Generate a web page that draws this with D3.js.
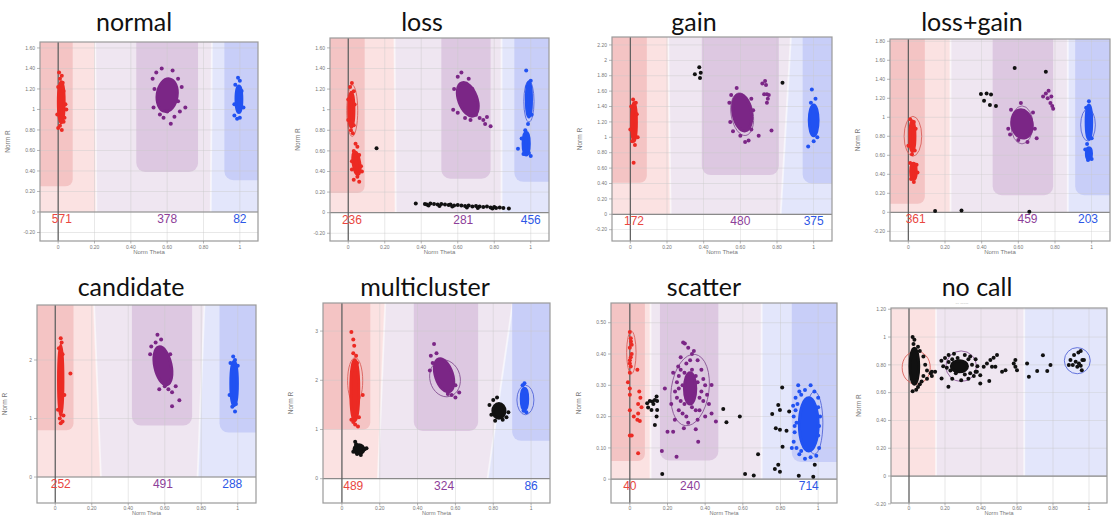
<!DOCTYPE html>
<html>
<head>
<meta charset="utf-8">
<script src="https://cdn.jsdelivr.net/npm/d3@7"></script>
<style>
  body { margin: 0; background: #fff; }
  text { font-family: "Liberation Sans", Arial, sans-serif; }
</style>
</head>
<body>
<svg id="chart" width="1114" height="517"></svg>
<script>
// ---- data ----
const panelTitles = ['normal', 'loss', 'gain', 'loss+gain', 'candidate', 'multicluster', 'scatter', 'no call']

// AA / AB / BB counts shown under the zero line
const genotypeCounts = [
  [571, 378, 82], [236, 281, 456], [172, 480, 375], [361, 459, 203],
  [252, 491, 288], [489, 324, 86], [40, 240, 714], null
]
// where each count sits on the theta axis (cluster centre)
const countTheta = [
  [0.02, 0.6, 1.0], [0.02, 0.63, 1.0], [0.02, 0.6, 1.0], [0.04, 0.65, 0.98],
  [0.03, 0.59, 0.97], [0.06, 0.54, 1.0], [0.0, 0.32, 0.95], null
]

const xTickValues = [0, 0.2, 0.4, 0.6, 0.8, 1]
const yTickValues = [
  [-0.2, 0, 0.2, 0.4, 0.6, 0.8, 1, 1.2, 1.4, 1.6],
  [-0.2, 0, 0.2, 0.4, 0.6, 0.8, 1, 1.2, 1.4, 1.6],
  [-0.2, 0, 0.2, 0.4, 0.6, 0.8, 1, 1.2, 1.4, 1.6, 1.8, 2, 2.2],
  [-0.2, 0, 0.2, 0.4, 0.6, 0.8, 1, 1.2, 1.4, 1.6, 1.8],
  [0, 1, 2],
  [0, 1, 2, 3],
  [0, 0.1, 0.2, 0.3, 0.4, 0.5],
  [-0.2, 0, 0.2, 0.4, 0.6, 0.8, 1, 1.2]
]
const yRanges = [
  [-0.283, 1.658], [-0.275, 1.696], [-0.347, 2.303], [-0.302, 1.824],
  [-0.444, 2.94], [-0.494, 3.571], [-0.076, 0.563], [-0.194, 1.209]
]

// call regions: AA|AB boundary [theta at top, theta at R=0], AB|BB boundary,
// AA box [right theta, bottom R], AB box [left, right, bottom R], BB box [left, bottom R]
const callRegions = [
  { b1: [0.20, 0.21], b2: [0.85, 0.84], aa: [0.08, 0.25], ab: [0.43, 0.77, 0.39], bb: [0.915, 0.31] },
  { b1: [0.25, 0.26], b2: [0.84, 0.84], aa: [0.09, 0.19], ab: [0.51, 0.78, 0.33], bb: [0.91, 0.30] },
  { b1: [0.20, 0.22], b2: [0.90, 0.82], aa: [0.09, 0.41], ab: [0.39, 0.81, 0.51], bb: [0.94, 0.40] },
  { b1: [0.23, 0.23], b2: [0.87, 0.87], aa: [0.09, 0.09], ab: [0.46, 0.79, 0.18], bb: [0.91, 0.18] },
  { b1: [0.20, 0.25], b2: [0.83, 0.78], aa: [0.10, 0.80], ab: [0.42, 0.75, 0.88], bb: [0.90, 0.76] },
  { b1: [0.24, 0.19], b2: [0.94, 0.77], aa: [0.15, 1.00], ab: [0.38, 0.72, 0.97], bb: [0.90, 0.77] },
  { b1: [0.11, 0.11], b2: [0.70, 0.70], aa: [0.08, 0.058], ab: [0.16, 0.47, 0.06], bb: [0.86, 0.055] },
  { b1: [0.15, 0.15], b2: [0.64, 0.64], aa: null, ab: null, bb: null }
]

// dense cluster cores: [class, theta, R, theta half-width, R half-height, tilt]
const clusterCores = [
  [['A', 0.017, 1.07, 0.016, 0.2, 0], ['H', 0.60, 1.14, 0.055, 0.16, 8], ['B', 0.995, 1.10, 0.016, 0.13, 0]],
  [['A', 0.017, 1.0, 0.014, 0.17, 0], ['A', 0.045, 0.48, 0.018, 0.11, -8], ['H', 0.655, 1.1, 0.05, 0.17, -20],
   ['B', 0.99, 1.1, 0.014, 0.17, 0], ['B', 0.975, 0.67, 0.017, 0.11, 0]],
  [['A', 0.02, 1.2, 0.013, 0.25, 0], ['H', 0.61, 1.32, 0.05, 0.24, -10], ['B', 1.0, 1.22, 0.024, 0.2, 0]],
  [['A', 0.022, 0.80, 0.014, 0.16, 0], ['A', 0.028, 0.43, 0.015, 0.085, 0], ['H', 0.62, 0.93, 0.055, 0.15, -10],
   ['B', 0.985, 0.95, 0.015, 0.18, 0], ['B', 0.985, 0.62, 0.014, 0.06, 0]],
  [['A', 0.03, 1.65, 0.012, 0.6, 0], ['H', 0.59, 1.9, 0.045, 0.33, -12], ['B', 0.98, 1.6, 0.018, 0.38, 0]],
  [['A', 0.068, 1.8, 0.021, 0.62, 0], ['N', 0.09, 0.6, 0.026, 0.09, 0], ['H', 0.54, 2.1, 0.045, 0.35, -18],
   ['N', 0.83, 1.38, 0.032, 0.15, 0], ['B', 0.965, 1.62, 0.017, 0.22, 0]],
  [['H', 0.32, 0.29, 0.03, 0.05, 0], ['B', 0.95, 0.175, 0.05, 0.085, 0]],
  [['N', 0.03, 0.79, 0.024, 0.13, 0], ['N', 0.28, 0.79, 0.045, 0.04, 0]]
]

// individual samples [theta, R] by call
const clusterPoints = [
  { A: [[0.005, 1.36], [0.02, 1.33], [0.01, 1.30], [0.025, 1.26], [0.0, 1.22], [0.03, 1.18], [0.04, 1.05], [0.045, 1.0],
        [-0.005, 0.95], [0.03, 0.88], [0.01, 0.84], [0.02, 0.80], [0.0, 0.82], [0.035, 0.92]],
    H: [[0.54, 1.36], [0.57, 1.40], [0.63, 1.38], [0.66, 1.30], [0.68, 1.22], [0.52, 1.30], [0.53, 1.20], [0.525, 1.02],
        [0.56, 0.95], [0.58, 0.92], [0.62, 0.86], [0.64, 0.93], [0.67, 0.98], [0.70, 1.02], [0.55, 1.08], [0.66, 1.08], [0.60, 0.98]],
    B: [[0.99, 1.31], [1.0, 1.28], [0.975, 1.24], [1.01, 1.18], [0.97, 0.94], [0.985, 0.91], [1.0, 0.92], [1.02, 1.02], [0.97, 1.05]],
    N: [] },
  { A: [[0.02, 1.26], [0.01, 1.22], [0.03, 1.18], [0.0, 1.1], [0.035, 1.05], [0.0, 0.9], [0.03, 0.85], [0.015, 0.8], [0.025, 0.77],
        [0.04, 0.67], [0.05, 0.64], [0.03, 0.6], [0.06, 0.56], [0.02, 0.5], [0.07, 0.45], [0.075, 0.40], [0.05, 0.35], [0.03, 0.32],
        [0.06, 0.3], [0.02, 0.42]],
    H: [[0.60, 1.32], [0.62, 1.36], [0.66, 1.3], [0.58, 1.2], [0.575, 1.0], [0.6, 0.97], [0.64, 0.92], [0.67, 0.9], [0.70, 0.95],
        [0.72, 0.92], [0.74, 0.9], [0.76, 0.93], [0.75, 0.86], [0.78, 0.84], [0.70, 1.1], [0.68, 1.2]],
    B: [[0.975, 1.38], [1.0, 1.28], [0.98, 1.22], [1.005, 0.95], [0.985, 0.86], [0.97, 0.8], [0.93, 0.62], [0.95, 0.72],
        [0.99, 0.58], [1.0, 0.55], [0.96, 0.57]],
    N: [[0.155, 0.625], [0.37, 0.09], [0.42, 0.085], [0.43, 0.08], [0.45, 0.09], [0.47, 0.085], [0.49, 0.08], [0.51, 0.085],
        [0.53, 0.08], [0.55, 0.075], [0.56, 0.08], [0.58, 0.07], [0.60, 0.075], [0.62, 0.07], [0.64, 0.065], [0.66, 0.07],
        [0.68, 0.06], [0.70, 0.065], [0.72, 0.06], [0.74, 0.055], [0.76, 0.06], [0.78, 0.05], [0.80, 0.055], [0.81, 0.045],
        [0.83, 0.05], [0.85, 0.045], [0.88, 0.04], [0.44, 0.07], [0.50, 0.065], [0.57, 0.06], [0.65, 0.05], [0.71, 0.045], [0.79, 0.04]] },
  { A: [[0.015, 1.49], [0.03, 1.45], [0.005, 1.4], [0.035, 1.3], [0.0, 1.1], [0.04, 1.0], [0.01, 0.95], [0.025, 0.9], [0.018, 0.67]],
    H: [[0.58, 1.64], [0.55, 1.55], [0.54, 1.45], [0.66, 1.5], [0.67, 1.35], [0.545, 1.2], [0.56, 1.08], [0.60, 1.02], [0.626, 0.94],
        [0.645, 0.96], [0.70, 1.02], [0.77, 1.09], [0.66, 1.1], [0.72, 1.70], [0.735, 1.73], [0.74, 1.68], [0.73, 1.56],
        [0.745, 1.56], [0.755, 1.55], [0.75, 1.50], [0.745, 1.45]],
    B: [[0.99, 1.62], [1.01, 1.5], [0.985, 1.45], [0.97, 0.88], [1.0, 0.95], [1.02, 1.0]],
    N: [[0.352, 1.82], [0.376, 1.91], [0.384, 1.84], [0.38, 1.77], [0.83, 1.71]] },
  { A: [[0.01, 0.98], [0.03, 0.95], [0.04, 0.88], [0.0, 0.7], [0.035, 0.65], [0.02, 0.61], [0.01, 0.52], [0.045, 0.5],
        [0.05, 0.42], [0.015, 0.35], [0.03, 0.32]],
    H: [[0.614, 1.15], [0.56, 1.08], [0.545, 0.88], [0.555, 0.82], [0.60, 0.76], [0.65, 0.74], [0.70, 0.78], [0.69, 0.88],
        [0.68, 1.05], [0.735, 1.22], [0.75, 1.25], [0.76, 1.2], [0.765, 1.28], [0.775, 1.15], [0.78, 1.22], [0.785, 1.12], [0.79, 1.09]],
    B: [[0.985, 1.17], [0.97, 1.1], [1.0, 0.78], [0.975, 0.72], [0.965, 0.66], [1.0, 0.56], [0.98, 0.55]],
    N: [[0.396, 1.245], [0.413, 1.175], [0.427, 1.25], [0.451, 1.24], [0.445, 1.13], [0.478, 1.12], [0.58, 1.52],
        [0.75, 1.48], [0.146, 0.014], [0.29, 0.02], [0.66, 0.005]] },
  { A: [[0.03, 2.37], [0.035, 2.3], [0.02, 2.2], [0.04, 2.1], [0.025, 1.0], [0.04, 0.95], [0.03, 0.92], [0.045, 1.05],
        [0.083, 1.77], [0.015, 1.15], [0.05, 1.4]],
    H: [[0.56, 2.43], [0.526, 2.23], [0.55, 2.3], [0.58, 2.35], [0.52, 2.1], [0.63, 2.1], [0.60, 1.55], [0.62, 1.5], [0.64, 1.45],
        [0.66, 1.55], [0.64, 1.21], [0.68, 1.31], [0.57, 1.5], [0.62, 1.62]],
    B: [[0.975, 2.06], [0.985, 2.0], [0.96, 1.95], [1.0, 1.9], [0.97, 1.2], [0.985, 1.12], [0.99, 1.25], [0.955, 1.4]],
    N: [] },
  { A: [[0.05, 2.98], [0.06, 2.83], [0.065, 2.7], [0.06, 2.55], [0.075, 2.5], [0.08, 2.35], [0.11, 1.7], [0.05, 1.2],
        [0.07, 1.1], [0.085, 1.06], [0.06, 1.15], [0.09, 1.25]],
    H: [[0.487, 2.74], [0.47, 2.5], [0.50, 2.55], [0.48, 2.35], [0.465, 2.2], [0.6, 1.9], [0.62, 1.75], [0.60, 1.65],
        [0.58, 1.7], [0.56, 1.72]],
    B: [[0.965, 1.94], [0.955, 1.9], [0.975, 1.35], [0.96, 1.38]],
    N: [[0.07, 0.75], [0.075, 0.7], [0.12, 0.6], [0.13, 0.62], [0.06, 0.55], [0.1, 0.48], [0.08, 0.5], [0.8, 1.6],
        [0.82, 1.65], [0.78, 1.5], [0.79, 1.3], [0.87, 1.25], [0.88, 1.35], [0.85, 1.2], [0.81, 1.18]] },
  { A: [[0.0, 0.47], [0.006, 0.44], [0.0, 0.42], [0.01, 0.40], [0.0, 0.38], [0.005, 0.36], [0.0, 0.34], [0.04, 0.35],
        [-0.01, 0.31], [0.0, 0.29], [0.05, 0.28], [0.0, 0.27], [0.056, 0.26], [0.044, 0.24], [0.062, 0.23], [0.0, 0.22],
        [0.044, 0.21], [0.021, 0.20], [0.04, 0.19], [0.053, 0.186], [0.0, 0.14], [0.01, 0.14], [0.044, 0.083],
        [0.005, 0.45], [0.01, 0.43], [0.005, 0.39], [0.0, 0.37]],
    H: [[0.17, 0.09], [0.248, 0.072], [0.2, 0.152], [0.23, 0.152], [0.292, 0.434], [0.283, 0.437], [0.434, 0.21],
        [0.363, 0.12], [0.457, 0.184], [0.434, 0.301], [0.257, 0.36], [0.186, 0.29], [0.239, 0.19], [0.287, 0.163],
        [0.35, 0.16], [0.33, 0.40], [0.26, 0.33], [0.27, 0.25], [0.28, 0.21], [0.3, 0.2], [0.37, 0.22], [0.39, 0.25],
        [0.4, 0.3], [0.38, 0.35], [0.36, 0.38], [0.3, 0.37], [0.24, 0.28], [0.25, 0.31], [0.29, 0.34], [0.35, 0.33],
        [0.38, 0.28], [0.33, 0.23], [0.26, 0.22], [0.41, 0.27], [0.22, 0.24], [0.31, 0.18], [0.36, 0.19], [0.27, 0.39],
        [0.4, 0.2], [0.23, 0.34], [0.32, 0.38], [0.34, 0.41], [0.31, 0.42], [0.25, 0.26], [0.42, 0.24],
        [0.28, 0.30], [0.34, 0.27], [0.36, 0.31], [0.29, 0.24], [0.33, 0.35], [0.27, 0.35], [0.37, 0.26], [0.3, 0.26],
        [0.35, 0.22], [0.31, 0.32], [0.26, 0.29], [0.39, 0.32]],
    B: [[0.894, 0.30], [0.867, 0.235], [0.86, 0.1], [0.88, 0.26], [0.9, 0.28], [0.93, 0.285], [0.96, 0.3], [0.98, 0.28],
        [1.0, 0.26], [0.87, 0.2], [0.875, 0.15], [0.87, 0.12], [0.9, 0.08], [0.93, 0.065], [0.96, 0.07], [0.99, 0.075],
        [1.005, 0.1], [0.885, 0.18], [1.01, 0.2], [0.91, 0.27], [1.0, 0.14], [0.89, 0.24], [0.885, 0.1], [0.91, 0.09],
        [1.0, 0.23], [1.005, 0.17], [0.88, 0.22], [0.875, 0.17]],
    N: [[0.092, 0.243], [0.106, 0.25], [0.12, 0.248], [0.133, 0.253], [0.145, 0.25], [0.097, 0.229], [0.142, 0.264],
        [0.115, 0.221], [0.145, 0.221], [0.142, 0.2], [0.133, 0.173], [0.125, 0.24], [0.172, 0.017],
        [0.496, 0.224], [0.513, 0.182], [0.584, 0.2], [0.681, 0.08], [0.612, 0.017], [0.658, 0.012], [0.756, 0.208],
        [0.788, 0.237], [0.809, 0.293], [0.797, 0.221], [0.775, 0.163], [0.797, 0.158], [0.832, 0.155], [0.811, 0.104],
        [0.788, 0.046], [0.77, 0.033], [0.797, 0.024], [0.897, 0.011], [0.974, 0.008], [0.982, 0.046], [0.846, 0.216]] },
  { A: [], H: [], B: [],
    N: [[0.02, 1.0], [0.03, 0.98], [0.025, 0.95], [0.05, 0.93], [0.06, 0.9], [0.08, 0.86], [0.09, 0.8], [0.1, 0.76],
        [0.12, 0.74], [0.145, 0.75], [0.127, 0.72], [0.07, 0.68], [0.05, 0.64], [0.02, 0.61], [0.04, 0.62], [0.06, 0.66],
        [0.1, 0.7], [0.08, 0.72], [0.181, 0.702], [0.219, 0.642], [0.2, 0.85], [0.22, 0.87], [0.25, 0.88], [0.31, 0.87],
        [0.34, 0.86], [0.37, 0.84], [0.36, 0.72], [0.33, 0.7], [0.29, 0.69], [0.24, 0.7], [0.19, 0.79], [0.18, 0.83],
        [0.38, 0.79], [0.37, 0.75], [0.23, 0.76], [0.22, 0.82], [0.33, 0.84], [0.34, 0.74], [0.26, 0.74], [0.31, 0.73],
        [0.35, 0.80], [0.24, 0.84], [0.21, 0.78], [0.27, 0.85],
        [0.396, 0.726], [0.415, 0.786], [0.433, 0.81], [0.452, 0.834], [0.47, 0.851],
        [0.489, 0.87], [0.461, 0.786], [0.48, 0.786], [0.446, 0.683], [0.517, 0.75], [0.536, 0.762], [0.582, 0.81],
        [0.591, 0.786], [0.6, 0.762], [0.591, 0.834], [0.666, 0.714], [0.656, 0.81], [0.712, 0.755], [0.744, 0.869],
        [0.768, 0.755], [0.786, 0.798], [0.377, 0.75], [0.396, 0.666], [0.127, 0.75],
        [0.888, 0.798], [0.897, 0.834], [0.917, 0.87], [0.941, 0.889], [0.954, 0.899], [0.926, 0.822], [0.944, 0.81],
        [0.963, 0.834], [0.972, 0.834], [0.935, 0.786], [0.954, 0.793], [0.96, 0.762], [0.91, 0.798]] }
]

// cluster ellipses drawn by the caller: [class, theta, R, theta radius, R radius, tilt]
const clusterOutlines = [
  [],
  [['A', 0.022, 0.99, 0.03, 0.25, 0], ['B', 0.99, 1.08, 0.028, 0.2, 0]],
  [['H', 0.61, 1.3, 0.06, 0.28, -10]],
  [['A', 0.025, 0.80, 0.048, 0.21, 0], ['H', 0.62, 0.92, 0.06, 0.2, 0], ['B', 0.98, 0.92, 0.04, 0.17, 0]],
  [],
  [['A', 0.07, 1.99, 0.04, 0.47, 0], ['H', 0.545, 2.04, 0.08, 0.38, -15], ['B', 0.97, 1.6, 0.045, 0.3, 0]],
  [['A', 0.008, 0.405, 0.025, 0.068, 0], ['H', 0.32, 0.285, 0.1, 0.115, 8], ['B', 0.98, 0.18, 0.045, 0.1, 0]],
  [['A', 0.04, 0.78, 0.078, 0.12, 0], ['H', 0.29, 0.79, 0.085, 0.11, 0], ['B', 0.935, 0.83, 0.072, 0.094, 0]]
]

// ---- layout ----
const frames = [
  { left: 40, right: 258, top: 42, bottom: 241 },
  { left: 330, right: 549, top: 38, bottom: 241 },
  { left: 612, right: 832, top: 37, bottom: 241 },
  { left: 890, right: 1110, top: 39, bottom: 241 },
  { left: 37, right: 256, top: 305, bottom: 503 },
  { left: 323, right: 550, top: 303, bottom: 503 },
  { left: 611, right: 837, top: 303, bottom: 503 },
  { left: 891, right: 1107, top: 308, bottom: 503 }
]
const titleX = [134, 422, 694, 972, 131, 425, 704, 977]
const titleY = [31, 31, 31, 31, 296, 296, 296, 296]

const pointColor = { A: '#ec2a23', H: '#7b2686', B: '#2152f2', N: '#111111' }
const countColor = ['#e9473f', '#8d3e99', '#2d57e6']
const outlineColor = { A: '#d9605a', H: '#8c5a98', B: '#5566d8' }
const zoneColor = { pink: '#fbe2e2', lav: '#efe6f1', blue: '#e3e6fb', aa: '#f4c4c4', ab: '#ddc8e1', bb: '#c8cef8' }

const svg = d3.select('#chart')
svg.append('rect').attr('width', 1114).attr('height', 517).attr('fill', '#fff')

const fmt = d => (Number.isInteger(d) ? String(d) : d.toFixed(2))

panelTitles.forEach((title, i) => {
  const f = frames[i]
  const bottomRow = i >= 4
  const x = d3.scaleLinear().domain([-0.1, 1.1]).range([f.left, f.right])
  const y = d3.scaleLinear().domain(yRanges[i]).range([f.bottom, f.top])
  const g = svg.append('g')
  const yHi = yRanges[i][1]

  g.append('clipPath').attr('id', 'clip' + i)
    .append('rect').attr('x', f.left).attr('y', f.top)
    .attr('width', f.right - f.left).attr('height', f.bottom - f.top)
  const plot = g.append('g').attr('clip-path', `url(#clip${i})`)

  // call regions
  const reg = callRegions[i]
  const line = d3.line().x(d => x(d[0])).y(d => y(d[1]))
  const top = yHi + 1
  plot.append('path').attr('fill', zoneColor.pink)
    .attr('d', line([[-0.2, top], [reg.b1[0], top], [reg.b1[1], 0], [-0.2, 0]]) + 'Z')
  plot.append('path').attr('fill', zoneColor.lav)
    .attr('d', line([[reg.b1[0], top], [reg.b2[0], top], [reg.b2[1], 0], [reg.b1[1], 0]]) + 'Z')
  plot.append('path').attr('fill', zoneColor.blue)
    .attr('d', line([[reg.b2[0], top], [1.2, top], [1.2, 0], [reg.b2[1], 0]]) + 'Z')
  ;[reg.b1, reg.b2].forEach(b => {
    plot.append('path').attr('fill', 'none').attr('stroke', '#fff').attr('stroke-width', 2).attr('opacity', 0.55)
      .attr('d', line([[b[0], top], [b[1], 0]]))
  })
  if (reg.aa) {
    plot.append('rect').attr('fill', zoneColor.aa).attr('rx', 7)
      .attr('x', x(-0.2)).attr('y', y(top))
      .attr('width', x(reg.aa[0]) - x(-0.2)).attr('height', y(reg.aa[1]) - y(top))
    plot.append('rect').attr('fill', zoneColor.ab).attr('rx', 9)
      .attr('x', x(reg.ab[0])).attr('y', y(top))
      .attr('width', x(reg.ab[1]) - x(reg.ab[0])).attr('height', y(reg.ab[2]) - y(top))
    plot.append('rect').attr('fill', zoneColor.bb).attr('rx', 9)
      .attr('x', x(reg.bb[0])).attr('y', y(top))
      .attr('width', x(1.2) - x(reg.bb[0])).attr('height', y(reg.bb[1]) - y(top))
  }
  // white strip below zero
  plot.append('rect').attr('fill', '#fff')
    .attr('x', f.left).attr('y', y(0)).attr('width', f.right - f.left).attr('height', f.bottom - y(0))

  // grid
  plot.selectAll('.gx').data(xTickValues).enter().append('line')
    .attr('x1', d => x(d)).attr('x2', d => x(d)).attr('y1', f.top).attr('y2', f.bottom)
    .attr('stroke', '#c9c9c9').attr('stroke-width', 0.6).attr('opacity', 0.7)
  plot.selectAll('.gy').data(yTickValues[i]).enter().append('line')
    .attr('y1', d => y(d)).attr('y2', d => y(d)).attr('x1', f.left).attr('x2', f.right)
    .attr('stroke', '#c9c9c9').attr('stroke-width', 0.6).attr('opacity', 0.7)

  // zero lines
  plot.append('line').attr('x1', f.left).attr('x2', f.right).attr('y1', y(0)).attr('y2', y(0))
    .attr('stroke', '#8a8a8a').attr('stroke-width', 1.2)
  plot.append('line').attr('x1', x(0)).attr('x2', x(0)).attr('y1', f.top).attr('y2', f.bottom)
    .attr('stroke', '#5a5a5a').attr('stroke-width', 1.2)

  // cluster ellipses
  const ell = (sel, d) => {
    const cx = x(d[1]), cy = y(d[2])
    return sel.attr('cx', cx).attr('cy', cy)
      .attr('rx', Math.abs(x(d[1] + d[3]) - cx)).attr('ry', Math.abs(cy - y(d[2] + d[4])))
      .attr('transform', `rotate(${d[5]},${cx},${cy})`)
  }
  clusterOutlines[i].forEach(d => {
    ell(plot.append('ellipse'), d).attr('fill', 'none').attr('stroke', outlineColor[d[0]]).attr('stroke-width', 0.9)
  })
  clusterCores[i].forEach(d => {
    ell(plot.append('ellipse'), d).attr('fill', pointColor[d[0]])
      .attr('stroke', pointColor[d[0]]).attr('stroke-width', 3)
  })
  const pts = clusterPoints[i]
  ;['A', 'H', 'B', 'N'].forEach(k => {
    plot.selectAll('.p' + k).data(pts[k]).enter().append('circle')
      .attr('cx', d => x(d[0])).attr('cy', d => y(d[1])).attr('r', 2)
      .attr('fill', pointColor[k])
  })

  // counts
  if (genotypeCounts[i]) {
    genotypeCounts[i].forEach((c, j) => {
      g.append('text').attr('x', x(countTheta[i][j])).attr('y', y(0) + 11)
        .attr('text-anchor', 'middle').attr('font-size', 12).attr('fill', countColor[j]).text(c)
    })
  }

  // frame
  g.append('rect').attr('x', f.left).attr('y', f.top)
    .attr('width', f.right - f.left).attr('height', f.bottom - f.top)
    .attr('fill', 'none').attr('stroke', '#9a9a9a').attr('stroke-width', 1.2)

  // ticks
  yTickValues[i].forEach(d => {
    g.append('line').attr('x1', f.left - 3).attr('x2', f.left).attr('y1', y(d)).attr('y2', y(d)).attr('stroke', '#888').attr('stroke-width', 0.6)
    g.append('text').attr('x', f.left - 5).attr('y', y(d)).attr('dy', '0.35em')
      .attr('text-anchor', 'end').attr('font-size', 5).attr('fill', '#777').text(fmt(d))
  })
  xTickValues.forEach(d => {
    g.append('line').attr('y1', f.bottom).attr('y2', f.bottom + 2.5).attr('x1', x(d)).attr('x2', x(d)).attr('stroke', '#888').attr('stroke-width', 0.6)
    g.append('text').attr('x', x(d)).attr('y', f.bottom + (bottomRow ? 6.5 : 8))
      .attr('text-anchor', 'middle').attr('font-size', 5).attr('fill', '#777').text(fmt(d))
  })

  // axis titles
  g.append('text').attr('transform', `translate(${f.left - 30},${(f.top + f.bottom) / 2}) rotate(-90)`)
    .attr('text-anchor', 'middle').attr('font-size', 6.5).attr('fill', '#777').text('Norm R')
  g.append('text').attr('x', (f.left + f.right) / 2).attr('y', bottomRow ? 515 : f.bottom + 13)
    .attr('text-anchor', 'middle').attr('font-size', bottomRow ? 5.5 : 6).attr('fill', '#777').text('Norm Theta')

  // title
  svg.append('text').attr('x', titleX[i]).attr('y', titleY[i])
    .attr('text-anchor', 'middle').attr('font-size', 25).attr('fill', '#111')
    .style('font-family', 'Lato, "Liberation Sans", sans-serif').text(title)
})

// faint sub-caption under "no call"
svg.append('text').attr('x', 962).attr('y', 305).attr('text-anchor', 'middle')
  .attr('font-size', 5).attr('fill', '#bbb').text('-- -----')
</script>
</body>
</html>
